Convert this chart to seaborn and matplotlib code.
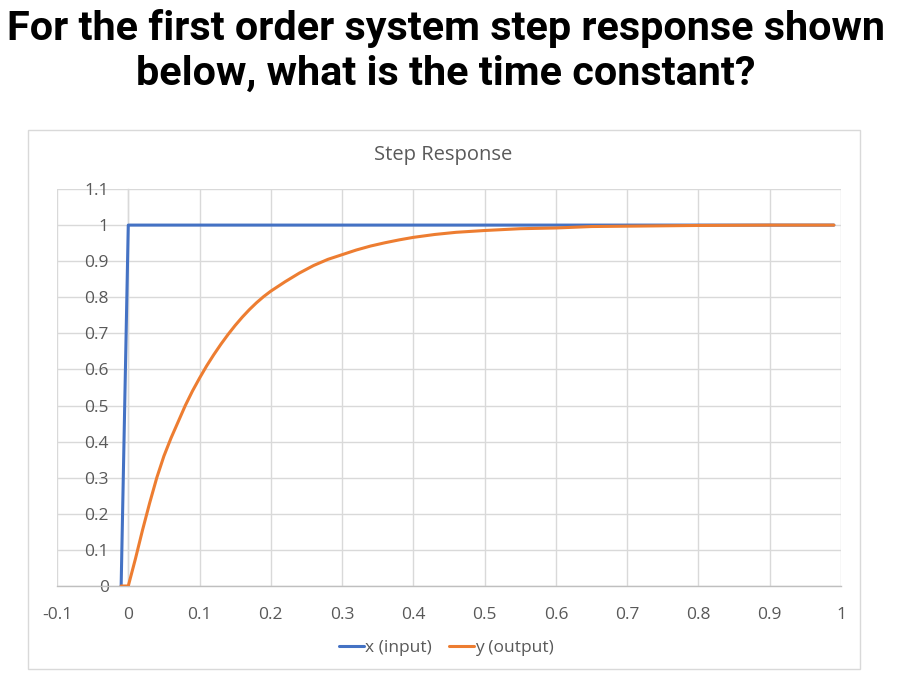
import matplotlib
matplotlib.use("Agg")
import matplotlib.pyplot as plt
import matplotlib.patches as mpatches
import seaborn as sns
import pandas as pd

# ---------------- data ----------------
time_input = [-0.01, 0.0, 0.99]
x_input = [0.0, 1.0, 1.0]

time_output = [-0.01, 0.0, 0.01, 0.02, 0.03, 0.04, 0.05, 0.06, 0.07, 0.08, 0.09,
               0.10, 0.11, 0.12, 0.13, 0.14, 0.15, 0.16, 0.17, 0.18, 0.19, 0.20,
               0.22, 0.24, 0.26, 0.28, 0.30, 0.32, 0.34, 0.36, 0.38, 0.40,
               0.43, 0.46, 0.50, 0.55, 0.60, 0.65, 0.70, 0.80, 0.90, 0.99]
y_output = [0.0, 0.0, 0.075, 0.155, 0.23, 0.30, 0.36, 0.41, 0.455, 0.50, 0.54,
            0.576, 0.61, 0.641, 0.67, 0.697, 0.722, 0.745, 0.766, 0.785, 0.802, 0.817,
            0.843, 0.867, 0.888, 0.905, 0.918, 0.931, 0.942, 0.951, 0.959, 0.966,
            0.974, 0.980, 0.985, 0.990, 0.992, 0.996, 0.997, 0.999, 1.0, 1.0]

x_ticks = [-0.1, 0.0, 0.1, 0.2, 0.3, 0.4, 0.5, 0.6, 0.7, 0.8, 0.9, 1.0]
x_tick_labels = ["-0.1", "0", "0.1", "0.2", "0.3", "0.4", "0.5", "0.6", "0.7", "0.8", "0.9", "1"]
y_ticks = [0.0, 0.1, 0.2, 0.3, 0.4, 0.5, 0.6, 0.7, 0.8, 0.9, 1.0, 1.1]
y_tick_labels = ["0", "0.1", "0.2", "0.3", "0.4", "0.5", "0.6", "0.7", "0.8", "0.9", "1", "1.1"]

series_names = ["x (input)", "y (output)"]
slide_title = ["For the first order system step response shown",
               "below, what is the time constant?"]
chart_title = "Step Response"

# ---------------- style ----------------
sns.set_theme(style="white")
plt.rcParams['font.family'] = ['Open Sans', 'DejaVu Sans']

W, H = 906, 688
fig = plt.figure(figsize=(W / 100, H / 100), dpi=100)
fig.patch.set_facecolor("white")

def fx(px):
    return px / W

def fy(py):
    return 1 - py / H

# chart area border
fig.patches.append(mpatches.Rectangle((fx(28), fy(669)), fx(860) - fx(28), fy(130) - fy(669),
                                      transform=fig.transFigure, fill=False,
                                      edgecolor="#D9D9D9", linewidth=1.0))

# slide title
title_family = ["Roboto", "DejaVu Sans"]
fig.text(fx(446), fy(40), slide_title[0], ha="center", va="baseline",
         fontsize=29.8, fontweight="bold", color="black", family=title_family)
fig.text(fx(446), fy(85), slide_title[1], ha="center", va="baseline",
         fontsize=29.8, fontweight="bold", color="black", family=title_family)

# chart title
fig.text(fx(443), fy(155), chart_title, ha="center", va="center",
         fontsize=14.5, color="#595959")

# plot area
left, right, top, bottom = 57, 841, 189, 586
ax = fig.add_axes([fx(left), fy(bottom), fx(right) - fx(left), fy(top) - fy(bottom)])
ax.set_facecolor("white")

df_in = pd.DataFrame({"t": time_input, "v": x_input})
df_out = pd.DataFrame({"t": time_output, "v": y_output})
sns.lineplot(data=df_in, x="t", y="v", ax=ax, color="#4472C4", linewidth=2.2,
             label=series_names[0], sort=False, estimator=None, zorder=3)
sns.lineplot(data=df_out, x="t", y="v", ax=ax, color="#ED7D31", linewidth=2.2,
             label=series_names[1], sort=False, estimator=None, zorder=4)

ax.set_xlim(-0.1, 1.0)
ax.set_ylim(0.0, 1.1)
ax.set_xticks(x_ticks)
ax.set_xticklabels(x_tick_labels)
ax.set_yticks(y_ticks)
ax.set_yticklabels(y_tick_labels)
ax.set_xlabel("")
ax.set_ylabel("")

ax.grid(True, color="#D9D9D9", linewidth=1.0)
ax.set_axisbelow(True)
for s in ["top", "right"]:
    ax.spines[s].set_visible(False)
ax.spines["left"].set_position(("data", 0.0))
ax.spines["left"].set_color("#D9D9D9")
ax.spines["bottom"].set_color("#BFBFBF")
ax.spines["left"].set_linewidth(1.0)
ax.spines["bottom"].set_linewidth(1.0)
ax.tick_params(axis="both", length=0, labelsize=12.5, labelcolor="#595959")
ax.tick_params(axis="y", pad=14)
ax.tick_params(axis="x", pad=15)

leg = ax.legend(loc="center", bbox_to_anchor=(fx(446), fy(648)), bbox_transform=fig.transFigure,
                ncol=2, frameon=False, fontsize=12.5, handlelength=1.45, handletextpad=0.05,
                columnspacing=1.0, labelcolor="#595959")

fig.savefig("out.png", dpi=100, facecolor="white")
